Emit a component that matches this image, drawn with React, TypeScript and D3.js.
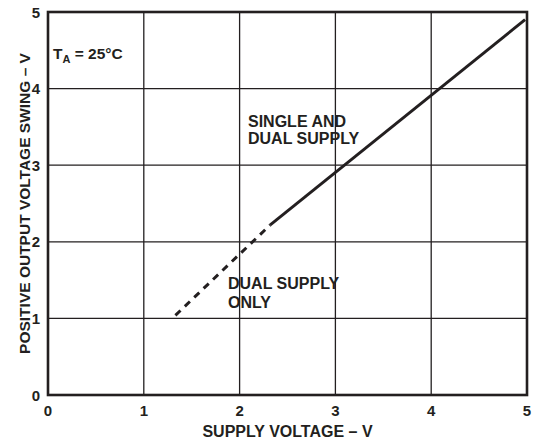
import React from "react";
import * as d3 from "d3";

const xTicks = [0, 1, 2, 3, 4, 5];
const yTicks = [0, 1, 2, 3, 4, 5];
const dashedX = [1.33, 2.32];
const dashedY = [1.04, 2.22];
const solidX = [2.32, 4.98];
const solidY = [2.22, 4.9];

const W = 534, H = 443;
const M = { left: 48, right: 7, top: 12, bottom: 48 };

export default function App() {
  const x = d3.scaleLinear().domain([0, 5]).range([M.left, W - M.right]);
  const y = d3.scaleLinear().domain([0, 5]).range([H - M.bottom, M.top]);
  const line = d3.line<[number, number]>().x(d => x(d[0])).y(d => y(d[1]));
  const dashed = dashedX.map((v, i) => [v, dashedY[i]] as [number, number]);
  const solid = solidX.map((v, i) => [v, solidY[i]] as [number, number]);
  const font = "'Liberation Sans', Arial, Helvetica, sans-serif";
  const col = "#231f20";
  return (
    <svg width={W} height={H} style={{ position: "absolute", left: 0, top: 0 }} fontFamily={font} fontWeight="bold">
      <rect width={W} height={H} fill="#fff" />
      {xTicks.slice(1, -1).map(t => (
        <line key={"gx" + t} x1={x(t)} x2={x(t)} y1={y(0)} y2={y(5)} stroke={col} strokeWidth={1.3} />
      ))}
      {yTicks.slice(1, -1).map(t => (
        <line key={"gy" + t} x1={x(0)} x2={x(5)} y1={y(t)} y2={y(t)} stroke={col} strokeWidth={1.3} />
      ))}
      <rect x={x(0)} y={y(5)} width={x(5) - x(0)} height={y(0) - y(5)} fill="none" stroke={col} strokeWidth={2.6} />
      <path d={line(dashed) || ""} fill="none" stroke={col} strokeWidth={3} strokeDasharray="7 6" />
      <path d={line(solid) || ""} fill="none" stroke={col} strokeWidth={3} />
      {xTicks.map(t => (
        <text key={"tx" + t} x={x(t)} y={y(0) + 21} textAnchor="middle" fontSize={15} fill={col}>{t}</text>
      ))}
      {yTicks.map(t => (
        <text key={"ty" + t} x={x(0) - 8} y={y(t) + 5.5} textAnchor="end" fontSize={15} fill={col}>{t}</text>
      ))}
      <text x={(x(0) + x(5)) / 2} y={437} textAnchor="middle" fontSize={16} fill={col}>SUPPLY VOLTAGE – V</text>
      <text transform={`translate(30,${(y(0) + y(5)) / 2}) rotate(-90)`} textAnchor="middle" fontSize={15.5} fill={col}>POSITIVE OUTPUT VOLTAGE SWING – V</text>
      <text x={53} y={59} fontSize={15.5} fill={col}>T<tspan fontSize={11} dy={4}>A</tspan><tspan dy={-4}> = 25°C</tspan></text>
      <text x={248} y={127} fontSize={16} fill={col}>SINGLE AND</text>
      <text x={248} y={144} fontSize={16} fill={col}>DUAL SUPPLY</text>
      <text x={228} y={289} fontSize={16} fill={col}>DUAL SUPPLY</text>
      <text x={228} y={308} fontSize={16} fill={col}>ONLY</text>
    </svg>
  );
}
